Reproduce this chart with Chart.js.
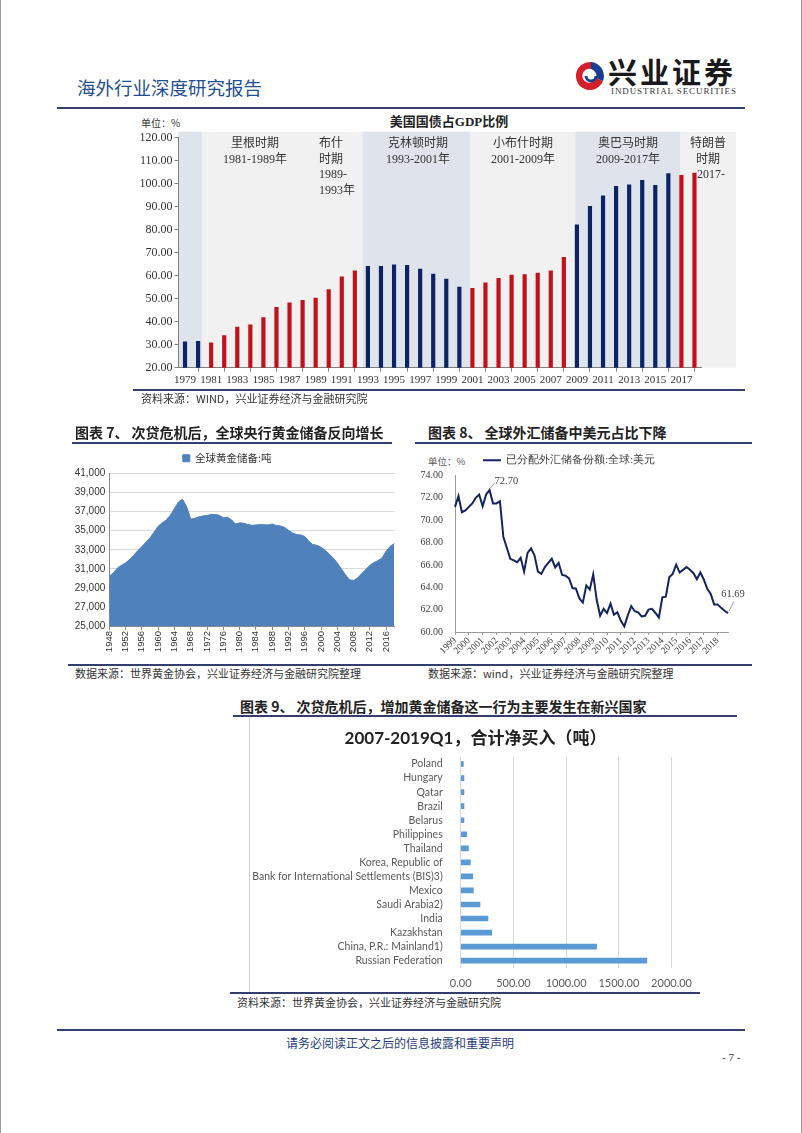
<!DOCTYPE html>
<html><head><meta charset="utf-8">
<script src="https://cdn.jsdelivr.net/npm/chart.js@4.4.1/dist/chart.umd.min.js"></script>
<style>
body{margin:0;width:802px;height:1133px;position:relative;background:#fff;overflow:hidden;font-family:"Noto Sans CJK SC",sans-serif;color:#222;}
.t{position:absolute;white-space:nowrap;line-height:1;}
.ln{position:absolute;background:#323d70;}
.cv{position:absolute;}
.era{position:absolute;font-family:"Liberation Serif","Noto Sans CJK SC",serif;font-size:12px;line-height:15.5px;color:#333;white-space:nowrap;}
</style></head><body>

<!-- page frame -->
<div style="position:absolute;left:0;top:0;width:1px;height:1133px;background:#9a9a9a"></div>
<div style="position:absolute;left:801px;top:0;width:1px;height:1133px;background:#9a9a9a"></div>

<!-- header -->
<div class="t" style="left:77px;top:78px;font-size:18.5px;color:#1f4f8f;">海外行业深度研究报告</div>
<svg style="position:absolute;left:576px;top:60px" width="30" height="32" viewBox="0 0 30 32">
  <path d="M15 2 A14 14 0 1 0 27 21 L20 18 A7 7 0 1 1 15 9 Z" fill="#d3202a"/>
  <path d="M15 9 A7 7 0 0 1 20 18 L27 21 A14 14 0 0 0 15 2 Z" fill="#1c3d8f"/>
  <circle cx="15" cy="16" r="5" fill="#fff"/>
  <path d="M10 16 A5 5 0 0 0 20 16" fill="none" stroke="#1c3d8f" stroke-width="3"/>
</svg>
<div class="t" style="left:608px;top:57px;font-size:29px;font-weight:bold;letter-spacing:3px;color:#1a1a1a;">兴业证券</div>
<div class="t" style="left:611px;top:87px;font-size:9px;font-family:'Liberation Serif',serif;letter-spacing:0.9px;color:#333;">INDUSTRIAL SECURITIES</div>
<div class="ln" style="left:57px;top:107px;width:688px;height:2px;"></div>

<!-- chart A texts -->
<div class="t" style="left:141px;top:118px;font-size:10px;color:#333;">单位：%</div>
<div class="t" style="left:449px;top:115px;font-size:13px;font-weight:bold;transform:translateX(-50%);font-family:'Liberation Serif','Noto Sans CJK SC',serif;">美国国债占GDP比例</div>
<canvas id="cA" class="cv" style="left:120px;top:128px" width="630" height="265"></canvas>
<div class="era" style="left:255px;top:136px;transform:translateX(-50%);text-align:center">里根时期<br>1981-1989年</div>
<div class="era" style="left:319px;top:136px;text-align:left">布什<br>时期<br>1989-<br>1993年</div>
<div class="era" style="left:418px;top:136px;transform:translateX(-50%);text-align:center">克林顿时期<br>1993-2001年</div>
<div class="era" style="left:523px;top:136px;transform:translateX(-50%);text-align:center">小布什时期<br>2001-2009年</div>
<div class="era" style="left:628px;top:136px;transform:translateX(-50%);text-align:center">奥巴马时期<br>2009-2017年</div>
<div class="era" style="left:708px;top:136px;transform:translateX(-50%);text-align:center">特朗普<br>时期<br>&nbsp;&nbsp;2017-</div>

<div class="ln" style="left:133px;top:389px;width:612px;height:1.5px;"></div>
<div class="t" style="left:141px;top:393px;font-size:11px;color:#333;">资料来源：WIND，兴业证券经济与金融研究院</div>

<!-- section 7/8 headings -->
<div class="t" style="left:75px;top:425px;font-size:14px;font-weight:bold;">图表 7、 次贷危机后，全球央行黄金储备反向增长</div>
<div class="ln" style="left:72px;top:442px;width:320px;height:1.5px;"></div>
<div class="t" style="left:428px;top:425px;font-size:14px;font-weight:bold;">图表 8、 全球外汇储备中美元占比下降</div>
<div class="ln" style="left:415px;top:442px;width:337px;height:1.5px;"></div>

<canvas id="cB" class="cv" style="left:60px;top:447px" width="340" height="207"></canvas>
<div class="t" style="left:428px;top:457px;font-size:9.5px;color:#595959;">单位：%</div>
<canvas id="cC" class="cv" style="left:410px;top:447px" width="345" height="212"></canvas>

<div class="ln" style="left:68px;top:664px;width:684px;height:1.5px;"></div>
<div class="t" style="left:75px;top:668px;font-size:11px;color:#333;">数据来源：世界黄金协会，兴业证券经济与金融研究院整理</div>
<div class="t" style="left:428px;top:668px;font-size:11px;color:#333;">数据来源：wind，兴业证券经济与金融研究院整理</div>

<!-- section 9 -->
<div class="t" style="left:240px;top:699px;font-size:14px;font-weight:bold;">图表 9、 次贷危机后，增加黄金储备这一行为主要发生在新兴国家</div>
<div class="ln" style="left:233px;top:715px;width:504px;height:1.5px;"></div>
<div style="position:absolute;left:249px;top:717px;width:1px;height:276px;background:#d0d0d0"></div>
<canvas id="cD" class="cv" style="left:250px;top:722px" width="451" height="268"></canvas>
<div class="ln" style="left:230px;top:992px;width:470px;height:1.5px;"></div>
<div class="t" style="left:237px;top:997px;font-size:11px;color:#333;">资料来源：世界黄金协会，兴业证券经济与金融研究院</div>

<!-- footer -->
<div class="ln" style="left:57px;top:1029px;width:688px;height:2px;"></div>
<div class="t" style="left:400px;top:1037px;font-size:12px;color:#1f3d7a;transform:translateX(-50%);">请务必阅读正文之后的信息披露和重要声明</div>
<div class="t" style="left:722px;top:1052px;font-size:11px;color:#333;font-family:'Liberation Serif',serif;">- 7 -</div>

<script>
// ---------- Chart A: US debt / GDP ----------
const usYears = ['1979','1980','1981','1982','1983','1984','1985','1986','1987','1988','1989','1990','1991','1992','1993','1994','1995','1996','1997','1998','1999','2000','2001','2002','2003','2004','2005','2006','2007','2008','2009','2010','2011','2012','2013','2014','2015','2016','2017','2018'];
const usDebt = [31.4,31.6,31.0,34.1,37.8,38.8,41.9,46.4,48.3,49.4,50.4,54.1,59.6,62.3,64.2,64.2,64.9,64.6,63.0,60.9,58.7,55.2,54.6,57.0,59.0,60.4,60.6,61.3,62.3,68.1,82.3,90.3,94.9,99.0,99.6,101.6,99.4,104.5,103.8,104.8];
const usParty = 'DDRRRRRRRRRRRRDDDDDDDDRRRRRRRRDDDDDDDDRR'.split('');
const usYTicks = [20,30,40,50,60,70,80,90,100,110,120];

// ---------- Chart B: global gold reserves ----------
const goldYears = ['1948','1949','1950','1951','1952','1953','1954','1955','1956','1957','1958','1959','1960','1961','1962','1963','1964','1965','1966','1967','1968','1969','1970','1971','1972','1973','1974','1975','1976','1977','1978','1979','1980','1981','1982','1983','1984','1985','1986','1987','1988','1989','1990','1991','1992','1993','1994','1995','1996','1997','1998','1999','2000','2001','2002','2003','2004','2005','2006','2007','2008','2009','2010','2011','2012','2013','2014','2015','2016','2017','2018'];
const goldTons = [30220,30570,31090,31370,31620,31970,32420,32910,33330,33790,34240,34840,35470,35820,36130,36620,37320,38020,38300,37500,36200,36300,36450,36550,36600,36700,36700,36620,36350,36420,36150,35700,35820,35780,35650,35570,35600,35640,35620,35600,35700,35550,35500,35350,35050,34770,34600,34560,34400,33900,33540,33470,33260,32950,32560,32140,31620,30990,30390,29850,29780,30050,30500,30920,31370,31650,31860,32140,32840,33370,33650];

// ---------- Chart C: USD share of allocated FX reserves ----------
const fxYears = ['1999','2000','2001','2002','2003','2004','2005','2006','2007','2008','2009','2010','2011','2012','2013','2014','2015','2016','2017','2018'];
const fxQuarters = ['Q1','Q2','Q3','Q4'];
const fxShare = [71.19,72.15,70.72,70.88,71.19,71.50,72.00,72.30,71.25,72.30,
  72.70,71.50,71.50,71.70,68.50,67.54,66.55,66.40,66.24,66.64,
  65.40,67.08,67.48,66.86,65.40,65.20,65.80,66.18,66.55,65.78,
  66.18,65.10,65.04,64.80,63.93,63.87,63.00,62.63,64.17,63.80,
  65.16,62.88,61.45,62.07,61.70,62.54,61.55,61.76,61.00,60.50,
  61.49,62.32,61.86,61.76,61.39,61.45,62.00,62.07,61.70,61.30,
  63.10,63.16,64.90,65.20,66.03,65.32,65.56,65.81,65.56,65.26,
  64.73,65.32,64.70,63.87,63.40,62.47,62.47,62.16,61.90,61.69];

// ---------- Chart D: net gold purchases 2007-2019Q1 ----------
const cbCountries = ['Poland','Hungary','Qatar','Brazil','Belarus','Philippines','Thailand','Korea, Republic of','Bank for International Settlements (BIS)3)','Mexico','Saudi Arabia2)','India','Kazakhstan','China, P.R.: Mainland1)','Russian Federation'];
const cbTons = [26,31,31,31,31,57,73,92,114,120,183,259,294,1289,1766];

Chart.defaults.animation = false;
Chart.defaults.responsive = false;
Chart.defaults.events = [];
Chart.defaults.plugins.tooltip.enabled = false;

// shading for chart A
const bandPlugin = {
  id:'bands',
  beforeDraw(chart){
    const {ctx, chartArea:a, scales:{x}} = chart;
    const top = a.top - 6;
    ctx.save();
    ctx.fillStyle = '#f1f1f2';
    ctx.fillRect(a.left, top, a.right + 35 - a.left, a.bottom - top);
    ctx.fillStyle = '#dfe4ec';
    [[-0.5,1.3],[13.6,21.8],[29.9,37.9]].forEach(([s,e])=>{
      const x1 = x.getPixelForValue(s), x2 = x.getPixelForValue(e);
      ctx.fillRect(x1, top, x2 - x1, a.bottom - top);
    });
    ctx.restore();
  }
};

new Chart(document.getElementById('cA'), {
  type:'bar',
  data:{labels:usYears, datasets:[{data:usDebt, backgroundColor:usParty.map(p=>p==='D'?'#0c2466':'#c1121c'), barPercentage:0.32, categoryPercentage:1}]},
  options:{
    layout:{padding:{top:9.7,right:49,left:0,bottom:0}},
    plugins:{legend:{display:false}},
    scales:{
      x:{grid:{offset:true, drawOnChartArea:false, tickLength:4, color:'#7f7f7f'}, border:{color:'#7f7f7f'},
         ticks:{autoSkip:false, maxRotation:0, padding:2, color:'#333', font:{family:'Liberation Serif', size:11},
                callback:(v,i)=> i%2===0 ? usYears[i] : null},
         afterFit:s=>{s.height=25.3;}},
      y:{min:20, max:120, afterBuildTicks:s=>{s.ticks = usYTicks.map(v=>({value:v}));},
         ticks:{callback:v=>Number(v).toFixed(2), color:'#333', padding:2, font:{family:'Liberation Serif', size:12}},
         grid:{drawOnChartArea:false, tickLength:4, color:'#7f7f7f'}, border:{color:'#7f7f7f'},
         afterFit:s=>{s.width=58.5;}}
    }
  },
  plugins:[bandPlugin]
});

new Chart(document.getElementById('cB'), {
  type:'line',
  data:{labels:goldYears, datasets:[{label:'全球黄金储备:吨', data:goldTons, fill:'start', backgroundColor:'#4f81bd', borderColor:'#4f81bd', borderWidth:1, pointRadius:0, tension:0}]},
  options:{
    layout:{padding:{top:0,right:5.7,left:0,bottom:0}},
    plugins:{legend:{display:true, position:'top', labels:{boxWidth:7, boxHeight:7, padding:6, color:'#333', font:{size:10.5, family:'Noto Sans CJK SC'}}}},
    scales:{
      x:{offset:false, grid:{drawOnChartArea:false, tickLength:4, color:'#8a8a8a'}, border:{color:'#8a8a8a'},
         ticks:{autoSkip:false, minRotation:90, maxRotation:90, padding:1, color:'#333', font:{size:9.5, family:'Liberation Sans'},
                callback:(v,i)=> i%4===0 ? goldYears[i] : null},
         afterFit:s=>{s.height=28;}},
      y:{min:25000, max:41000, ticks:{stepSize:2000, color:'#333', padding:4, font:{size:10, family:'Liberation Sans'}, callback:v=>Number(v).toLocaleString('en-US')},
         grid:{color:'#d9d9d9', drawTicks:false}, border:{color:'#8a8a8a'},
         afterFit:s=>{s.width=49.3;}}
    }
  }
});

const fxLabels = [];
fxYears.forEach(y=>fxQuarters.forEach(q=>fxLabels.push(y+q)));

const fxNotes = {
  id:'fxNotes',
  afterDatasetsDraw(chart){
    const {ctx} = chart;
    const meta = chart.getDatasetMeta(0);
    let pk = 0; fxShare.forEach((v,i)=>{ if(v>fxShare[pk]) pk=i; });
    const last = fxShare.length-1;
    ctx.save();
    ctx.strokeStyle='#a0a0a0'; ctx.lineWidth=1;
    ctx.fillStyle='#404040'; ctx.font='10.5px "Liberation Serif"';
    let p = meta.data[pk];
    ctx.beginPath(); ctx.moveTo(p.x+1,p.y-2); ctx.lineTo(p.x+5,p.y-7); ctx.stroke();
    ctx.textAlign='left'; ctx.textBaseline='middle';
    ctx.fillText(fxShare[pk].toFixed(2), p.x+5, p.y-9);
    p = meta.data[last];
    ctx.beginPath(); ctx.moveTo(p.x+1,p.y-2); ctx.lineTo(p.x+6,p.y-12); ctx.stroke();
    ctx.textAlign='center';
    ctx.fillText(fxShare[last].toFixed(2), p.x+5, p.y-19);
    ctx.restore();
  }
};

new Chart(document.getElementById('cC'), {
  type:'line',
  data:{labels:fxLabels, datasets:[{label:'已分配外汇储备份额:全球:美元', data:fxShare, borderColor:'#14245e', backgroundColor:'#14245e', borderWidth:2, pointRadius:0, pointStyle:'line', tension:0}]},
  options:{
    layout:{padding:{top:0,right:27,left:0,bottom:0}},
    plugins:{legend:{display:true, position:'top', labels:{usePointStyle:true, pointStyle:'line', pointStyleWidth:18, padding:8, color:'#404040', font:{size:10.5, family:'Liberation Serif'}}}},
    scales:{
      x:{offset:false, grid:{drawOnChartArea:false, tickLength:3, color:'#9a9a9a'}, border:{color:'#9a9a9a'},
         ticks:{autoSkip:false, minRotation:45, maxRotation:45, padding:0, color:'#404040', font:{size:9.5, family:'Liberation Serif'},
                callback:(v,i)=> i%4===0 ? fxLabels[i].slice(0,4) : null},
         afterFit:s=>{s.height=27;}},
      y:{min:60, max:74, ticks:{stepSize:2, color:'#404040', padding:4, font:{size:10, family:'Liberation Serif'}, callback:v=>Number(v).toFixed(2)},
         grid:{display:false}, border:{color:'#9a9a9a'},
         afterFit:s=>{s.width=45;}}
    }
  },
  plugins:[fxNotes]
});

new Chart(document.getElementById('cD'), {
  type:'bar',
  data:{labels:cbCountries, datasets:[{data:cbTons, backgroundColor:'#5b9bd5', barThickness:5}]},
  options:{
    indexAxis:'y',
    layout:{padding:{top:0,right:0,left:0,bottom:0}},
    plugins:{legend:{display:false},
      title:{display:true, text:'2007-2019Q1，合计净买入（吨）', color:'#222', font:{size:17, weight:'bold', family:'Lato, "Noto Sans CJK SC"'}, padding:{top:6,bottom:8.6}}},
    scales:{
      x:{min:0, max:2000, ticks:{stepSize:500, color:'#595959', padding:9, font:{size:11, family:'Lato'}, callback:v=>Number(v).toFixed(2)},
         grid:{color:'#d9d9d9', drawTicks:false}, border:{display:false},
         afterFit:s=>{s.height=22.3;}},
      y:{ticks:{color:'#595959', padding:10, font:{size:10.5, family:'Lato'}, autoSkip:false},
         grid:{display:false}, border:{display:false},
         afterFit:s=>{s.width=210.7;}}
    }
  }
});
</script>
</body></html>
